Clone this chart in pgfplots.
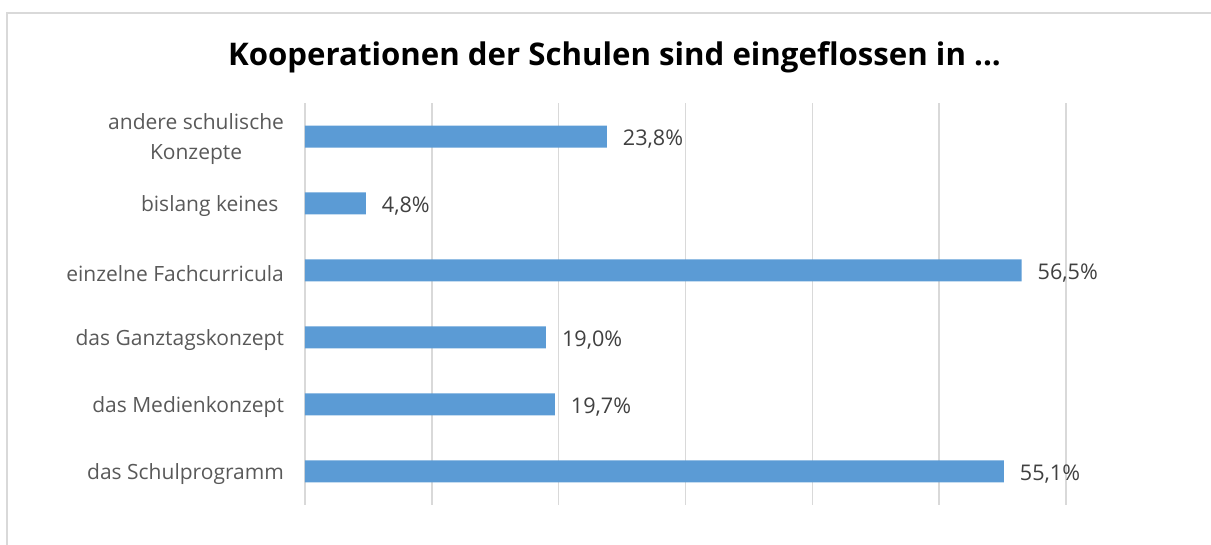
\documentclass[border=0pt]{standalone}
\usepackage{pgfplots}
\pgfplotsset{compat=1.18}
\usepackage{fontspec}
\setmainfont{Open Sans}
\definecolor{barblue}{HTML}{5B9BD5}
\definecolor{gridgrey}{HTML}{D9D9D9}
\definecolor{labgrey}{HTML}{595959}
\definecolor{valgrey}{HTML}{404040}
\begin{document}
\begin{tikzpicture}
\path[use as bounding box] (0pt,0pt) rectangle (605.5pt,272.5pt);
\draw[gridgrey, line width=0.8pt] (3.5pt,-2pt) -- (3.5pt,266pt) -- (608pt,266pt);
\node[font=\bfseries\fontsize{15.6}{20}\selectfont, text=black] at (307.25pt,244pt) {Kooperationen der Schulen sind eingeflossen in ...};
\begin{axis}[
  at={(152.5pt,20pt)}, anchor=south west,
  scale only axis, width=380.5pt, height=201pt,
  xmin=0, xmax=60, ymin=-0.5, ymax=5.5,
  xtick={0,10,...,60}, xticklabels={},
  xmajorgrids, grid style={gridgrey, line width=0.8pt},
  axis line style={draw=none},
  major tick length=0pt,
  ytick={0,...,5},
  yticklabels={das Schulprogramm, das Medienkonzept, das Ganztagskonzept, einzelne Fachcurricula, {bislang keines\ }, {andere schulische\\Konzepte}},
  yticklabel style={font=\fontsize{10.5}{15}\selectfont, text=labgrey, align=center, xshift=-7pt, yshift=-1.5pt},
  /pgf/number format/assume math mode=true,
  xbar, bar width=11pt,
  nodes near coords={\pgfmathprintnumber[fixed, fixed zerofill, precision=1, use comma]{\pgfplotspointmeta}\%},
  nodes near coords style={font=\fontsize{10.8}{14}\selectfont, text=valgrey, anchor=west, xshift=4.5pt, yshift=-1.5pt},
  point meta=explicit,
  clip=false,
]
\addplot[fill=barblue, draw=none] table[x=v, y=i, meta=v] {
i v
0 55.1
1 19.7
2 19.0
3 56.5
4 4.8
5 23.8
};
\end{axis}
\end{tikzpicture}
\end{document}
